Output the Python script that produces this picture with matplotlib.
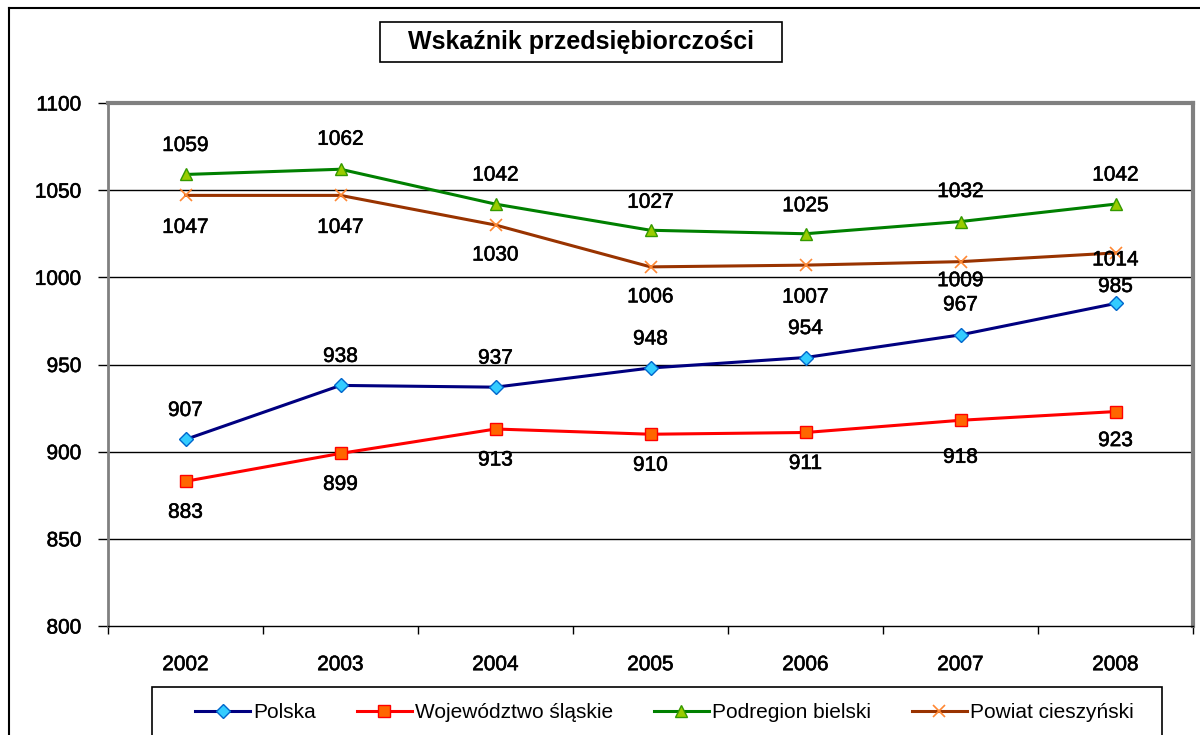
import matplotlib
matplotlib.use("Agg")
import matplotlib.pyplot as plt
import matplotlib.patheffects as pe
from matplotlib.patches import Rectangle
from matplotlib.lines import Line2D
from matplotlib.ticker import FixedLocator, NullFormatter

plt.rcParams['font.family'] = ['Liberation Sans', 'DejaVu Sans']

years = ["2002", "2003", "2004", "2005", "2006", "2007", "2008"]
polska = [907, 938, 937, 948, 954, 967, 985]
slaskie = [883, 899, 913, 910, 911, 918, 923]
bielski = [1059, 1062, 1042, 1027, 1025, 1032, 1042]
cieszynski = [1047, 1047, 1030, 1006, 1007, 1009, 1014]
series_names = ["Polska", "Województwo śląskie", "Podregion bielski", "Powiat cieszyński"]
title = "Wskaźnik przedsiębiorczości"
yticks = [800, 850, 900, 950, 1000, 1050, 1100]

W, H = 1200, 735
fig = plt.figure(figsize=(W / 100, H / 100), dpi=100)

def fx(px):
    return px / W

def fy(py):
    return 1 - py / H

thick = [pe.withStroke(linewidth=0.4, foreground="black")]

ax = fig.add_axes([fx(108), fy(626), fx(1193) - fx(108), fy(103) - fy(626)])
x = list(range(len(years)))

styles = [
    dict(color="#000080", marker="D", markerfacecolor="#33CCFF", markeredgecolor="#0066CC", markersize=7.5),
    dict(color="#FF0000", marker="s", markerfacecolor="#FF6600", markeredgecolor="#FF0000", markersize=8),
    dict(color="#008000", marker="^", markerfacecolor="#99CC00", markeredgecolor="#339900", markersize=9),
    dict(color="#993300", marker="x", markerfacecolor="#FF9933", markeredgecolor="#FF8833", markersize=8, markeredgewidth=1.2),
]
data = [polska, slaskie, bielski, cieszynski]

# label offsets in pixels (positive = above)
offsets = [
    [29, 29, 29, 29, 29, 30, 17],
    [-31, -31, -31, -31, -31, -37, -29],
    [29, 30, 29, 28, 28, 30, 29],
    [-32, -32, -30, -30, -32, -19, -7],
]

handles = []
for vals, st, offs, name in zip(data, styles, offsets, series_names):
    h, = ax.plot(x, vals, linewidth=2.2, label=name, zorder=3, **st)
    handles.append(h)
    for xi, v, o in zip(x, vals, offs):
        ax.annotate(str(v), (xi, v), xytext=(0, o), textcoords="offset pixels",
                    ha="center", va="center", fontsize=15, color="black", zorder=5,
                    path_effects=thick)

ax.set_xlim(-0.5, len(years) - 0.5)
ax.set_ylim(800, 1100)
ax.set_yticks(yticks)
ax.set_yticklabels([str(t) for t in yticks])
ax.set_xticks(x)
ax.set_xticklabels(years)
ax.xaxis.set_minor_locator(FixedLocator([i - 0.5 for i in range(len(years) + 1)]))
ax.xaxis.set_minor_formatter(NullFormatter())
ax.tick_params(axis="x", which="major", length=0, pad=21, labelsize=15)
ax.tick_params(axis="x", which="minor", length=6, width=1, color="black", direction="out")
ax.tick_params(axis="y", length=7, width=1, color="black", direction="out", pad=12, labelsize=15)
for lab in ax.get_xticklabels() + ax.get_yticklabels():
    lab.set_path_effects(thick)

for yv in yticks[1:-1]:
    ax.axhline(yv, color="black", linewidth=1, zorder=1)

ax.spines["left"].set_color("#808080")
ax.spines["left"].set_linewidth(2)
ax.spines["top"].set_color("#808080")
ax.spines["top"].set_linewidth(3)
ax.spines["right"].set_color("#808080")
ax.spines["right"].set_linewidth(3)
ax.spines["bottom"].set_color("black")
ax.spines["bottom"].set_linewidth(1)

# outer chart border
fig.add_artist(Line2D([fx(9), fx(9)], [fy(8), 0], color="black", linewidth=1.5, transform=fig.transFigure))
fig.add_artist(Line2D([fx(9), 1], [fy(8), fy(8)], color="black", linewidth=1.5, transform=fig.transFigure))

# title box
fig.add_artist(Rectangle((fx(380), fy(62)), fx(782) - fx(380), fy(22) - fy(62),
                         transform=fig.transFigure, fill=False, edgecolor="black", linewidth=1.2))
fig.text(fx(581), fy(42), title, ha="center", va="center", fontsize=18, fontweight="bold")

# legend box
fig.add_artist(Rectangle((fx(152), fy(745)), fx(1162) - fx(152), fy(687) - fy(745),
                         transform=fig.transFigure, fill=False, edgecolor="black", linewidth=1.2))
leg = fig.legend(handles=handles, loc="center left", bbox_to_anchor=(fx(195), fy(713)),
                 ncol=4, frameon=False, fontsize=15, handlelength=2.65, handletextpad=0.15,
                 columnspacing=1.95, borderpad=0, borderaxespad=0)

fig.savefig("out.png", dpi=100)
